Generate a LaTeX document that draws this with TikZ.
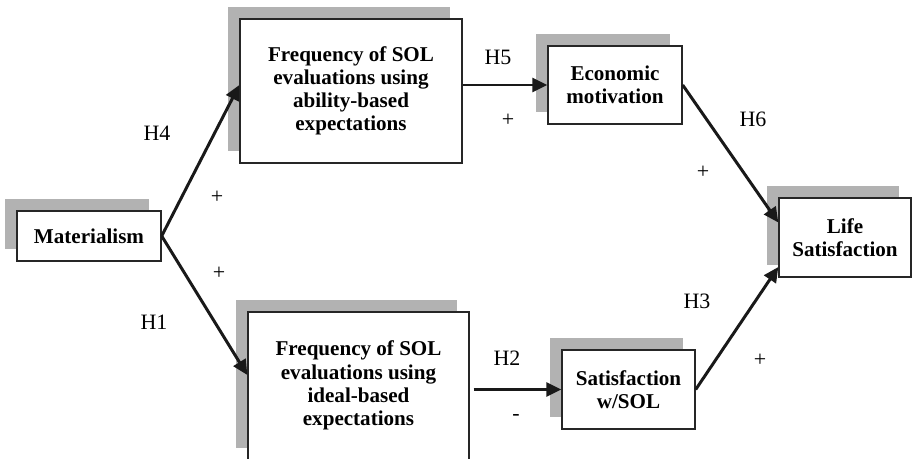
\documentclass[tikz,border=0pt]{standalone}
\usepackage{fontspec}
\setmainfont{Liberation Serif}
\usetikzlibrary{arrows.meta,shadows}

\tikzset{
  box/.style={draw=black!85, fill=white, line width=0.8pt, align=center, inner sep=0pt,
    font=\fontsize{12}{13.2}\selectfont\bfseries,
    general shadow={fill=black!30, draw=none, shadow xshift=-0.24cm, shadow yshift=0.24cm}},
  hyp/.style={font=\fontsize{12.5}{14}\selectfont},
  link/.style={line width=1.7pt, black!90, -{Triangle[length=0.3cm,width=0.28cm]}},
}

\begin{document}
\begin{tikzpicture}[x=0.02cm, y=-0.02cm]
        \useasboundingbox (0,0) rectangle (912,459);

        \node[box, minimum width=2.88cm, minimum height=1cm] (mat) at (89,236) {Materialism};
        \node[box, minimum width=4.44cm, minimum height=2.88cm] (abil) at (351,91) {Frequency of SOL\\evaluations using\\ability-based\\expectations};
        \node[box, minimum width=4.42cm, minimum height=2.96cm] (ideal) at (358.5,386) {\raisebox{0.12cm}{\begin{tabular}{@{}c@{}}Frequency of SOL\\evaluations using\\ideal-based\\expectations\end{tabular}}};
        \node[box, minimum width=2.68cm, minimum height=1.56cm] (econ) at (615,85) {Economic\\motivation};
        \node[box, minimum width=2.66cm, minimum height=1.58cm] (satis) at (628.5,389.5) {Satisfaction\\w/SOL};
        \node[box, minimum width=2.64cm, minimum height=1.58cm] (life) at (845,237.5) {Life\\Satisfaction};

        \draw[link] (mat.east) -- ([yshift=0.12cm]abil.west);
        \draw[link] (mat.east) -- ([yshift=0.22cm]ideal.west);
        \draw[link] (abil.east |- econ.west) -- (econ.west);
        \draw[link] ([xshift=0.08cm]ideal.east |- satis.west) -- (satis.west);
        \draw[link] (econ.east) -- ([yshift=0.3cm]life.west);
        \draw[link] (satis.east) -- ([yshift=-0.59cm]life.west);

        \node[hyp] (h4) at (157,133) {H4};
        \node[hyp] (p4) at (217,197) {+};
        \node[hyp] (p1) at (219,273) {+};
        \node[hyp] (h1) at (154,322) {H1};
        \node[hyp] (h5) at (498,57) {H5};
        \node[hyp] (p5) at (508,120) {+};
        \node[hyp] (h6) at (753,119) {H6};
        \node[hyp] (p6) at (703,172) {+};
        \node[hyp] (h2) at (507,358) {H2};
        \node[hyp] (m2) at (516,417) {-};
        \node[hyp] (h3) at (697,301) {H3};
        \node[hyp] (p3) at (760,360) {+};
      \end{tikzpicture}
\end{document}
